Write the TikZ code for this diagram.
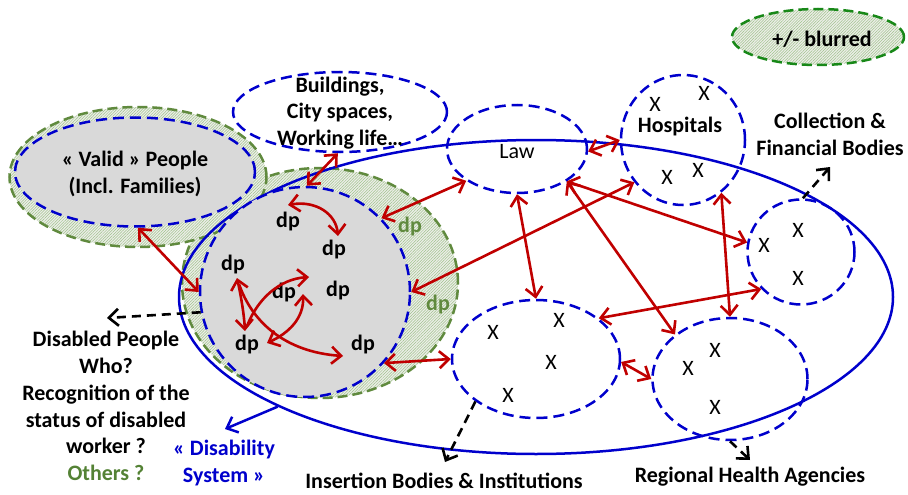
\documentclass[tikz,border=0pt]{standalone}
\usepackage{fontspec}
\setmainfont{Carlito}
\usetikzlibrary{shapes.geometric,arrows.meta,patterns.meta}

\definecolor{sysblue}{RGB}{0,0,204}
\definecolor{linkred}{RGB}{192,0,0}
\definecolor{zonegreen}{RGB}{96,138,62}
\definecolor{blurgreen}{RGB}{24,136,24}
\definecolor{hatchgreen}{RGB}{160,194,140}
\definecolor{hatchbase}{RGB}{236,238,232}
\definecolor{peoplegray}{RGB}{217,217,217}
\definecolor{othersgreen}{RGB}{84,130,53}

\tikzset{
  zone/.style={ellipse, inner sep=0pt, line width=2.5pt,
    dash pattern=on 10pt off 5pt,
    preaction={fill=hatchbase},
    pattern={Lines[angle=45,distance=2pt,line width=0.5pt]},
    pattern color=hatchgreen},
  group/.style={ellipse, inner sep=0pt, draw=sysblue, line width=2.5pt,
    dash pattern=on 11pt off 6pt},
  people/.style={group, fill=peoplegray},
  lbl/.style={font=\bfseries\fontsize{22}{26.8}\selectfont, align=center, inner sep=0pt},
  xmark/.style={font=\fontsize{22}{24}\selectfont, inner sep=0pt},
  barb/.tip={Straight Barb[length=9.5pt,width=17pt]},
  link/.style={draw=linkred, line width=2.6pt, barb-barb},
  onelink/.style={draw=linkred, line width=2.6pt, -barb},
  outlink/.style={draw=black, line width=2.6pt, dash pattern=on 9pt off 6pt, -barb},
}

\begin{document}
\begin{tikzpicture}[x=1pt,y=-1pt]
\useasboundingbox (0,0) rectangle (908,495);

% hatched zones of blurred membership
\node[zone, draw=zonegreen, minimum width=276pt, minimum height=230pt] (dpzone) at (320,283) {};
\node[zone, draw=zonegreen, minimum width=257pt, minimum height=140pt] (validzone) at (138,177) {};

% the disability system
\node[ellipse, inner sep=0pt, draw=sysblue, line width=2.5pt,
      minimum width=714pt, minimum height=314pt] (system) at (536,297) {};

% people
\node[people, minimum width=210pt, minimum height=210pt] (dpcircle) at (305,292) {};
\node[people, minimum width=240pt, minimum height=109pt] (valid) at (135,172) {};

% actors and environments
\node[group, minimum width=214pt, minimum height=80pt] (build) at (340,112) {};
\node[group, minimum width=140pt, minimum height=88pt] (law) at (517,149) {};
\node[group, minimum width=124pt, minimum height=130pt] (hosp) at (683,140) {};
\node[group, minimum width=107pt, minimum height=105pt] (coll) at (801,252) {};
\node[group, minimum width=168pt, minimum height=118pt] (ins) at (536,359) {};
\node[group, minimum width=155pt, minimum height=122pt] (rha) at (730,379) {};

% legend
\node[zone, draw=blurgreen, minimum width=172pt, minimum height=56pt] (blur) at (818,37) {};
\node[lbl] (blurtxt) at (822,39) {+/- blurred};

% texts
\node[lbl] (buildtxt) at (340,113) {Buildings,\\City spaces,\\Working life…};
\node[lbl] (validtxt) at (135,174) {« Valid » People\\(Incl. Families)};
\node[lbl, font=\fontsize{22}{24}\selectfont] (lawtxt) at (517,152) {Law};
\node[lbl] (hosptxt) at (680,127) {Hospitals};
\node[lbl] (colltxt) at (830,134) {Collection \&\\Financial Bodies};
\node[lbl] (dptxt) at (106,406) {Disabled People\\Who?\\Recognition of the\\status of disabled\\worker ?\\\textcolor{othersgreen}{Others ?}};
\node[lbl, text=sysblue] (systxt) at (224,463) {« Disability\\System »};
\node[lbl] (instxt) at (444,481) {Insertion Bodies \& Institutions};
\node[lbl] (rhatxt) at (750,477) {Regional Health Agencies};

% members of each actor
\node[xmark] (h1) at (655,104) {X};
\node[xmark] (h2) at (704,93) {X};
\node[xmark] (h3) at (667,177) {X};
\node[xmark] (h4) at (698,170) {X};
\node[xmark] (c1) at (764,245) {X};
\node[xmark] (c2) at (798,230) {X};
\node[xmark] (c3) at (798,278) {X};
\node[xmark] (i1) at (493,332) {X};
\node[xmark] (i2) at (559,320) {X};
\node[xmark] (i3) at (551,362) {X};
\node[xmark] (i4) at (508,395) {X};
\node[xmark] (r1) at (688,368) {X};
\node[xmark] (r2) at (715,350) {X};
\node[xmark] (r3) at (715,407) {X};

% disabled persons
\node[lbl] (dp1) at (288,222) {dp};
\node[lbl] (dp2) at (334,250) {dp};
\node[lbl] (dp3) at (233,265) {dp};
\node[lbl] (dp4) at (284,293) {dp};
\node[lbl] (dp5) at (338,291) {dp};
\node[lbl] (dp6) at (247,345) {dp};
\node[lbl] (dp7) at (363,345) {dp};
\node[lbl, text=zonegreen] (dp8) at (410,227) {dp};
\node[lbl, text=zonegreen] (dp9) at (438,305) {dp};

% interactions between disabled persons
\coordinate (a1) at (288,205);
\coordinate (a2) at (338,236);
\coordinate (b1) at (237,278);
\coordinate (b2) at (245,331);
\coordinate (c0) at (247,326);
\coordinate (cE) at (309,277);
\coordinate (d0) at (239,284);
\coordinate (dE) at (343,356);
\coordinate (e1) at (267,343);
\coordinate (e2) at (303,294);
\draw[link] (a1) .. controls (316,200) and (336,214) .. (a2);
\draw[link] (b1) .. controls (241,296) and (244,314) .. (b2);
\draw[onelink] (c0) .. controls (258,298) and (280,279) .. (cE);
\draw[onelink] (d0) .. controls (252,322) and (285,352) .. (dE);
\draw[link] (e1) .. controls (289,333) and (304,318) .. (e2);

% interactions between the parts of the system
\draw[link] (valid.-87) -- (dpcircle.180);
\draw[link] (build.-93) -- (dpcircle.89);
\draw[link] (dpcircle.44.6) -- (law.212);
\draw[link] (dpcircle.0) -- (hosp.221.6);
\draw[link] (dpcircle.-42.6) -- (ins.180);
\draw[link] (law.-2.5) -- (hosp.180);
\draw[link] (law.-90) -- (ins.90);
\draw[link] (law.-33) -- (coll.170);
\draw[link] (law.-33) -- (rha.141);
\draw[link] (hosp.-54.6) -- (rha.90);
\draw[link] (ins.33.9) -- (coll.223.5);
\draw[link] (ins.-2) -- (rha.180);

% pointers to the captions
\coordinate (dpend) at (107,318);
\coordinate (insend) at (445,462);
\coordinate (rhaend) at (750,460);
\coordinate (collend) at (830,167);
\coordinate (sysend) at (225,429);
\draw[outlink] (dpcircle.191.3) -- (dpend);
\draw[outlink] (ins.215) -- (insend);
\draw[outlink] (rha.-90) -- (rhaend);
\draw[outlink] (coll.88) -- (collend);
\draw[draw=sysblue, line width=2.5pt, -barb] (system.203.7) -- (sysend);
\end{tikzpicture}
\end{document}
